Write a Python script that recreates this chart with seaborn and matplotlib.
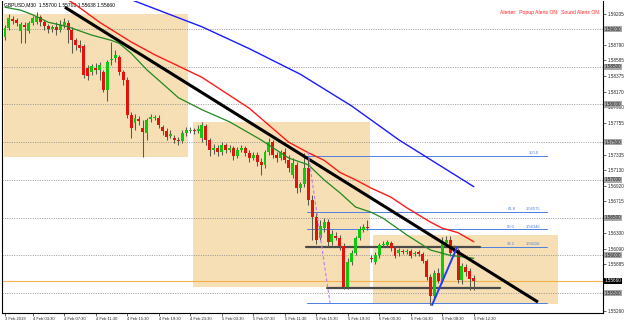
import matplotlib
matplotlib.use("Agg")
import matplotlib.pyplot as plt
import seaborn as sns
import numpy as np
import pandas as pd
from matplotlib.patches import Rectangle

# ---------------- data ----------------
opens = [1.5889,1.5901,1.5913,1.5912,1.5897,1.5905,1.5897,1.5908,1.5909,1.5916,
         1.5909,1.5904,1.5900,1.5903,1.5899,1.5905,1.5908,1.5899,1.5885,1.5879,
         1.5878,1.5848,1.5843,1.5848,1.5846,1.5843,1.5819,1.5859,1.5862,1.5863,
         1.5843,1.5832,1.5786,1.5775,1.5781,1.5769,1.5762,1.5781,1.5782,1.5782,
         1.5770,1.5765,1.5758,1.5756,1.5753,1.5752,1.5762,1.5765,1.5766,1.5765,
         1.5756,1.5771,1.5753,1.5740,1.5742,1.5737,1.5746,1.5740,1.5742,1.5732,
         1.5740,1.5742,1.5736,1.5729,1.5733,1.5724,1.5720,1.5737,1.5750,1.5733,
         1.5729,1.5737,1.5726,1.5706,1.5720,1.5689,1.5695,1.5716,1.5673,1.5651,
         1.5623,1.5636,1.5644,1.5618,1.5626,1.5623,1.5612,1.5558,1.5591,1.5603,
         1.5623,1.5634,1.5638,1.5596,1.5591,1.5600,1.5614,1.5614,1.5616,1.5610,
         1.5603,1.5606,1.5604,1.5606,1.5602,1.5604,1.5602,1.5592,1.5571,1.5546,
         1.5577,1.5566,1.5616,1.5620,1.5604,1.5607,1.5567,1.5584,1.5579,1.5570]
highs = [1.5905,1.5920,1.5917,1.5915,1.5909,1.5909,1.5911,1.5917,1.5923,1.5919,
         1.5912,1.5907,1.5905,1.5909,1.5912,1.5915,1.5912,1.5903,1.5888,1.5885,
         1.5880,1.5852,1.5854,1.5855,1.5856,1.5846,1.5859,1.5883,1.5872,1.5866,
         1.5846,1.5836,1.5790,1.5787,1.5785,1.5779,1.5782,1.5787,1.5786,1.5786,
         1.5773,1.5769,1.5766,1.5759,1.5757,1.5766,1.5770,1.5770,1.5769,1.5773,
         1.5777,1.5774,1.5756,1.5748,1.5746,1.5750,1.5749,1.5746,1.5745,1.5744,
         1.5746,1.5745,1.5740,1.5737,1.5737,1.5729,1.5740,1.5756,1.5753,1.5737,
         1.5740,1.5742,1.5733,1.5729,1.5724,1.5697,1.5736,1.5726,1.5680,1.5657,
         1.5647,1.5649,1.5648,1.5634,1.5631,1.5627,1.5616,1.5596,1.5607,1.5626,
         1.5639,1.5641,1.5647,1.5600,1.5604,1.5616,1.5619,1.5620,1.5619,1.5612,
         1.5610,1.5608,1.5608,1.5608,1.5606,1.5607,1.5604,1.5595,1.5575,1.5580,
         1.5583,1.5624,1.5626,1.5626,1.5614,1.5610,1.5590,1.5588,1.5583,1.5574]
lows = [1.5885,1.5899,1.5907,1.5904,1.5881,1.5881,1.5895,1.5905,1.5907,1.5904,
        1.5899,1.5895,1.5896,1.5892,1.5896,1.5901,1.5881,1.5868,1.5872,1.5870,
        1.5835,1.5832,1.5839,1.5840,1.5832,1.5817,1.5805,1.5852,1.5856,1.5839,
        1.5826,1.5782,1.5756,1.5766,1.5773,1.5730,1.5753,1.5777,1.5779,1.5769,
        1.5759,1.5753,1.5756,1.5749,1.5746,1.5749,1.5758,1.5762,1.5761,1.5762,
        1.5750,1.5746,1.5732,1.5734,1.5732,1.5733,1.5736,1.5737,1.5726,1.5729,
        1.5737,1.5732,1.5724,1.5726,1.5718,1.5706,1.5716,1.5733,1.5729,1.5724,
        1.5726,1.5722,1.5710,1.5702,1.5683,1.5684,1.5691,1.5667,1.5620,1.5615,
        1.5620,1.5631,1.5612,1.5614,1.5620,1.5607,1.5555,1.5555,1.5587,1.5600,
        1.5620,1.5631,1.5634,1.5591,1.5588,1.5596,1.5611,1.5611,1.5606,1.5596,
        1.5599,1.5602,1.5602,1.5596,1.5599,1.5599,1.5590,1.5567,1.5534,1.5543,
        1.5563,1.5563,1.5612,1.5599,1.5599,1.5563,1.5562,1.5573,1.5554,1.5554]
closes = [1.5901,1.5915,1.5911,1.5908,1.5907,1.5903,1.5908,1.5915,1.5916,1.5909,
          1.5904,1.5900,1.5903,1.5899,1.5905,1.5909,1.5899,1.5885,1.5879,1.5875,
          1.5839,1.5838,1.5851,1.5846,1.5852,1.5819,1.5856,1.5860,1.5866,1.5843,
          1.5832,1.5786,1.5769,1.5782,1.5778,1.5763,1.5779,1.5783,1.5783,1.5773,
          1.5765,1.5757,1.5761,1.5753,1.5752,1.5762,1.5766,1.5766,1.5765,1.5767,
          1.5773,1.5753,1.5740,1.5742,1.5737,1.5746,1.5740,1.5742,1.5732,1.5740,
          1.5742,1.5736,1.5729,1.5733,1.5724,1.5720,1.5737,1.5750,1.5733,1.5729,
          1.5737,1.5726,1.5716,1.5722,1.5689,1.5695,1.5716,1.5673,1.5651,1.5620,
          1.5639,1.5644,1.5618,1.5628,1.5623,1.5612,1.5558,1.5591,1.5603,1.5623,
          1.5635,1.5638,1.5636,1.5595,1.5600,1.5614,1.5615,1.5618,1.5610,1.5599,
          1.5607,1.5604,1.5606,1.5599,1.5603,1.5602,1.5592,1.5571,1.5546,1.5577,
          1.5566,1.5616,1.5620,1.5603,1.5607,1.5567,1.5586,1.5578,1.5569,1.5566]

# moving averages read at selected bars
ma_green_bar = [0, 4, 7, 11, 16, 22, 27, 29, 32, 36, 41, 44, 50, 57, 65, 72, 77, 81, 85, 89, 93, 96, 102, 108, 113, 119]
ma_green_val = [1.5929, 1.5925, 1.5919, 1.5909, 1.5903, 1.5892, 1.5885, 1.5881, 1.5868, 1.5846, 1.5823, 1.5809, 1.5793,
                1.5777, 1.5753, 1.5729, 1.5720, 1.5700, 1.5683, 1.5664, 1.5657, 1.5649, 1.5627, 1.5607, 1.5600, 1.5596]
ma_red_bar = [15, 18, 24, 32, 38, 50, 62, 72, 77, 81, 85, 89, 93, 98, 102, 108, 111, 115, 119]
ma_red_val = [1.5942, 1.5932, 1.5909, 1.5883, 1.5866, 1.5836, 1.5795, 1.5750, 1.5736, 1.5726, 1.5710, 1.5700, 1.5689,
              1.5677, 1.5663, 1.5644, 1.5636, 1.5630, 1.5618]
ma_blue_bar = [27, 32, 50, 62, 75, 88, 100, 119]
ma_blue_val = [1.5945, 1.5939, 1.5903, 1.5874, 1.5840, 1.5798, 1.5753, 1.5691]

# trend line (bar, price)
trend_bar = [15.2, 135.3]
trend_val = [1.5929, 1.5538]

# fibonacci levels
fib_levels = ["100.0", "61.8", "50.0", "38.2", "0.0"]
fib_prices = [1.57320, 1.56575, 1.56346, 1.56116, 1.55372]

# support / resistance
sr_prices = [1.5611, 1.5557]
sr_start = [76.4, 81.7]
sr_end = [120.6, 125.6]

# rectangles
box_x0 = [-0.25, 47.7, 93.4]
box_x1 = [46.4, 92.6, 140.4]
box_lo = [1.5730, 1.5558, 1.5535]
box_hi = [1.5920, 1.5777, 1.5627]

grid_levels = [1.59000, 1.58500, 1.58000, 1.57500, 1.57000, 1.56500, 1.56000, 1.55500]
price_ticks = [1.59205, 1.58790, 1.58585, 1.58375, 1.58170, 1.57960, 1.57755, 1.57545, 1.57335,
               1.57130, 1.56920, 1.56715, 1.56505, 1.56300, 1.56090, 1.55885, 1.55675, 1.55470, 1.55260]
hidden_ticks = [1.57545, 1.56505, 1.55675, 1.55470]
bid_price = 1.55660

time_tick_bars = [0, 7, 15, 23, 31, 39, 47, 55, 63, 71, 79, 87, 95, 103, 111, 119]
time_labels = ["3 Feb 2019", "4 Feb 03:30", "4 Feb 07:30", "4 Feb 11:30", "4 Feb 15:30", "4 Feb 19:30",
               "4 Feb 23:30", "5 Feb 03:30", "5 Feb 07:30", "5 Feb 11:30", "5 Feb 15:30", "5 Feb 19:30",
               "6 Feb 00:30", "6 Feb 04:30", "6 Feb 08:30", "6 Feb 12:30"]

zig_bar = [108.4, 114.7]
zig_val = [1.5534, 1.5610]
purple_bar = [76.9, 82.5]
purple_val = [1.5737, 1.5537]

title_text = "GBPUSD,M30  1.55700 1.55700 1.55638 1.55660"
alert_text = "Alerter:  Popup Alerts ON.  Sound Alerts ON."

# ---------------- drawing ----------------
sns.set_style("white")
plt.rcParams["font.family"] = ["Liberation Sans", "DejaVu Sans"]

fig = plt.figure(figsize=(6.25, 3.22), dpi=100)
ax = fig.add_axes([2 / 625, 9 / 322, 601 / 625, 312 / 322])
ax.set_xlim(-0.76, 151.8)
ax.set_ylim(1.55235, 1.59372)

for x0, x1, lo, hi in zip(box_x0, box_x1, box_lo, box_hi):
    ax.add_patch(Rectangle((x0, lo), x1 - x0, hi - lo, facecolor="#f6dfb4", edgecolor="none", zorder=0))

for g in grid_levels:
    ax.axhline(g, color="#8c8c8c", lw=0.6, ls=(0, (1.2, 1.6)), zorder=1)

ax.axhline(bid_price, color="#f2b24a", lw=0.8, zorder=1)

# fib lines
for lvl, p in zip(fib_levels, fib_prices):
    ax.plot([76.6, 137.5], [p, p], color="#4d7fe0", lw=0.7, zorder=2)
    if lvl == "100.0":
        ax.text(133.0, p + 0.00008, lvl, fontsize=3.0, color="#4d7fe0", va="bottom", ha="left")
    elif lvl != "0.0":
        ax.text(127.5, p + 0.00008, lvl, fontsize=3.0, color="#4d7fe0", va="bottom", ha="left")
        ax.text(132.3, p + 0.00008, f"{p:.5f}", fontsize=3.0, color="#4d7fe0", va="bottom", ha="left")

for p, s, e in zip(sr_prices, sr_start, sr_end):
    ax.plot([s, e], [p, p], color="#4a4a4a", lw=1.6, zorder=2)

# candles
idx = np.arange(len(closes))
df = pd.DataFrame({"bar": idx, "open": opens, "high": highs, "low": lows, "close": closes})
ax.vlines(df["bar"], df["low"], df["high"], color="#5a5a4a", lw=0.75, zorder=3)
up = df["close"] >= df["open"]
body_lo = np.minimum(df["open"], df["close"])
body_h = np.maximum(np.abs(df["close"] - df["open"]), 0.00006)
ax.bar(df["bar"][up], body_h[up], bottom=body_lo[up], width=0.75, color="#10c810", edgecolor="none", zorder=4)
ax.bar(df["bar"][~up], body_h[~up], bottom=body_lo[~up], width=0.75, color="#e0140c", edgecolor="none", zorder=4)

# moving averages
sns.lineplot(x=ma_green_bar, y=ma_green_val, ax=ax, color="#1f8a1f", lw=0.9, estimator=None, sort=False, zorder=5)
sns.lineplot(x=ma_red_bar, y=ma_red_val, ax=ax, color="#ff1a1a", lw=1.0, estimator=None, sort=False, zorder=5)
sns.lineplot(x=ma_blue_bar, y=ma_blue_val, ax=ax, color="#1a1aff", lw=1.0, estimator=None, sort=False, zorder=5)

ax.plot(trend_bar, trend_val, color="black", lw=2.2, zorder=6, solid_capstyle="butt")
ax.plot(zig_bar, zig_val, color="#1f3cff", lw=1.4, zorder=6)
ax.plot(purple_bar, purple_val, color="#c27af0", lw=0.8, ls=(0, (3, 2)), zorder=6)

# texts
ax.text(0.004, 0.997, title_text, transform=ax.transAxes, fontsize=3.6, va="top", ha="left", color="black")
ax.text(0.828, 0.97, alert_text, transform=ax.transAxes, fontsize=3.6, va="top", ha="left", color="#ff2020")

# axes styling
for side in ["left", "bottom", "right"]:
    ax.spines[side].set_color("black")
    ax.spines[side].set_linewidth(0.8)
ax.spines["top"].set_visible(False)

ax.yaxis.tick_right()
ax.set_yticks(price_ticks)
ax.set_yticklabels(["" if v in hidden_ticks else f"{v:.5f}" for v in price_ticks])
ax.tick_params(axis="y", right=True, length=2, width=0.5, labelsize=3.3, pad=1.5)
ax.set_xticks(time_tick_bars)
ax.set_xticklabels(time_labels)
ax.tick_params(axis="x", bottom=True, length=2, width=0.5, labelsize=3.0, pad=1.0)
for lab in ax.get_xticklabels():
    lab.set_ha("left")

for g in grid_levels:
    ax.text(1.003, g, f"{g:.5f}", transform=ax.get_yaxis_transform(), fontsize=3.3, va="center", ha="left",
            color="#202020", bbox=dict(facecolor="#a8a8a8", edgecolor="none", pad=0.4), zorder=10, clip_on=False)
ax.text(1.003, bid_price, f"{bid_price:.5f}", transform=ax.get_yaxis_transform(), fontsize=3.3, va="center",
        ha="left", color="white", bbox=dict(facecolor="black", edgecolor="none", pad=0.4), zorder=11, clip_on=False)

ax.set_xlabel("")
ax.set_ylabel("")
fig.savefig("out.png", dpi=100)
